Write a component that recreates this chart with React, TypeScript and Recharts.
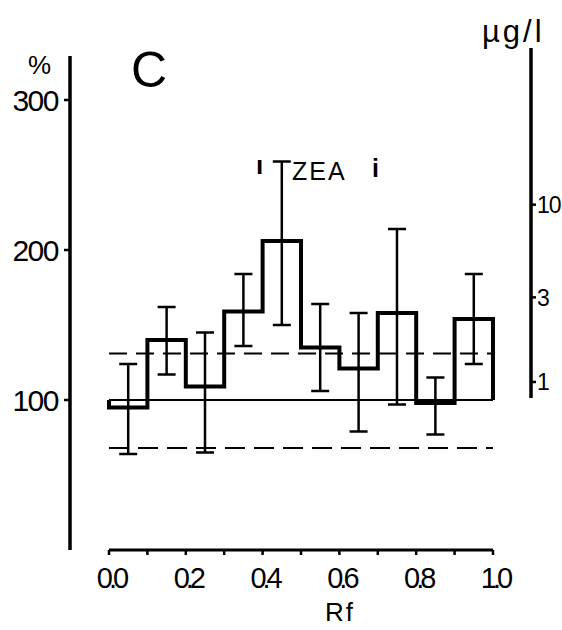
import React from "react";
import {
  ComposedChart,
  Line,
  Scatter,
  ErrorBar,
  XAxis,
  YAxis,
  ReferenceLine,
  Customized,
} from "recharts";

// Rf bins (lower edge) and ZEA response in % per bin
const binStarts = [0.0, 0.1, 0.2, 0.3, 0.4, 0.5, 0.6, 0.7, 0.8, 0.9];
const zeaPercent = [95, 140, 109, 159, 206, 135, 121, 158, 98, 154];

// error bars at bin centres
const binCenters = [0.05, 0.15, 0.25, 0.35, 0.45, 0.55, 0.65, 0.75, 0.85, 0.95];
const errLow = [64, 117, 65, 136, 150, 106, 79, 97, 77, 124];
const errHigh = [124, 162, 145, 184, 259, 164, 158, 214, 115, 184];

const baseline = 100;
const upperLimit = 131;
const lowerLimit = 68;

const rfTicks = [0, 0.1, 0.2, 0.3, 0.4, 0.5, 0.6, 0.7, 0.8, 0.9, 1.0];
const percentTicks = [100, 200, 300];
const concTicks = [1, 3, 10];

const rfDomain: [number, number] = [-0.1016, 1.099];
const percentDomain: [number, number] = [0, 334.67];
const concDomain: [number, number] = [0.1128, 76.5];
const percentAxisTop = 329.3;
const concAxisBottom = 0.812;

const FONT = "'Liberation Sans', Arial, sans-serif";

// step outline: starts and ends on the 100 % line
const stepData = [
  { rf: 0, pct: baseline },
  ...binStarts.map((rf, i) => ({ rf, pct: zeaPercent[i] })),
  { rf: 1, pct: zeaPercent[zeaPercent.length - 1] },
  { rf: 1, pct: baseline },
];

const errData = binCenters.map((rf, i) => ({
  rf,
  mid: (errLow[i] + errHigh[i]) / 2,
  err: (errHigh[i] - errLow[i]) / 2,
}));

const RfTick = ({ x, y, payload }: any) => {
  const v = payload.value as number;
  const even = Math.round(v * 10) % 2 === 0;
  return (
    <g>
      <line x1={x} x2={x} y1={y} y2={y + 5} stroke="#000" strokeWidth={2.5} />
      {even && (
        <text
          x={x + 2}
          y={y + 38}
          textAnchor="middle"
          fontFamily={FONT}
          fontSize={29}
          letterSpacing={-4}
          fill="#000"
        >
          {v.toFixed(1)}
        </text>
      )}
    </g>
  );
};

const Annotations = () => (
  <g fontFamily={FONT} fill="#000">
    <text x={28} y={74} fontSize={26}>
      %
    </text>
    <text x={131} y={87} fontSize={50}>
      C
    </text>
    <text x={482} y={42} fontSize={31} letterSpacing={3}>
      µg/l
    </text>
    <text x={256} y={174} fontSize={26} fontWeight="bold">
      ı
    </text>
    <text x={292} y={180} fontSize={25} letterSpacing={2}>
      ZEA
    </text>
    <text x={372} y={177} fontSize={25} fontWeight="bold">
      i
    </text>
    <text x={340} y={621} fontSize={26} textAnchor="middle" letterSpacing={2}>
      Rf
    </text>
  </g>
);

export default function App() {
  return (
    <div style={{ position: "absolute", left: 0, top: 0, width: 562, height: 630, background: "#fff" }}>
      <ComposedChart
        width={562}
        height={630}
        margin={{ top: 48, right: 0, bottom: 40, left: 0 }}
      >
        <XAxis
          type="number"
          dataKey="rf"
          domain={rfDomain}
          ticks={rfTicks}
          axisLine={false}
          tickLine={false}
          tickSize={0}
          tickMargin={0}
          height={40}
          tick={<RfTick />}
          interval={0}
        />
        <YAxis
          yAxisId="left"
          domain={percentDomain}
          ticks={percentTicks}
          allowDataOverflow
          axisLine={false}
          tickLine={{ stroke: "#000", strokeWidth: 2.5 }}
          tickSize={6}
          tickMargin={6}
          width={70}
          tick={{ fontFamily: FONT, fontSize: 30, fill: "#000", letterSpacing: -1.5 }}
        />
        <YAxis
          yAxisId="right"
          orientation="right"
          scale="log"
          domain={concDomain}
          ticks={concTicks}
          allowDataOverflow
          axisLine={false}
          tickLine={{ stroke: "#000", strokeWidth: 2.5 }}
          tickSize={5}
          tickMargin={1}
          width={31}
          tick={{ fontFamily: FONT, fontSize: 23, fill: "#000", letterSpacing: -1 }}
        />

        {/* axis lines */}
        <ReferenceLine
          yAxisId="left"
          segment={[{ x: rfDomain[0], y: 0 }, { x: rfDomain[0], y: percentAxisTop }]}
          stroke="#000"
          strokeWidth={3.5}
        />
        <ReferenceLine
          yAxisId="left"
          segment={[{ x: 0, y: 0 }, { x: 1, y: 0 }]}
          stroke="#000"
          strokeWidth={3}
        />
        <ReferenceLine
          yAxisId="right"
          segment={[{ x: rfDomain[1], y: concAxisBottom }, { x: rfDomain[1], y: concDomain[1] }]}
          stroke="#000"
          strokeWidth={3.5}
        />

        {/* control levels */}
        <ReferenceLine
          yAxisId="left"
          segment={[{ x: 0, y: baseline }, { x: 1, y: baseline }]}
          stroke="#000"
          strokeWidth={2}
        />
        <ReferenceLine
          yAxisId="left"
          segment={[{ x: 0, y: upperLimit }, { x: 1, y: upperLimit }]}
          stroke="#000"
          strokeWidth={2}
          strokeDasharray="18 9"
        />
        <ReferenceLine
          yAxisId="left"
          segment={[{ x: 0, y: lowerLimit }, { x: 1, y: lowerLimit }]}
          stroke="#000"
          strokeWidth={2}
          strokeDasharray="20 9"
        />

        <Line
          yAxisId="left"
          data={stepData}
          dataKey="pct"
          type="stepAfter"
          stroke="#000"
          strokeWidth={4}
          dot={false}
          activeDot={false}
          isAnimationActive={false}
        />
        <Scatter
          yAxisId="left"
          data={errData}
          dataKey="mid"
          shape={() => <g />}
          isAnimationActive={false}
        >
          <ErrorBar
            dataKey="err"
            direction="y"
            width={9}
            stroke="#000"
            strokeWidth={2.5}
            isAnimationActive={false}
          />
        </Scatter>

        <Customized component={Annotations} />
      </ComposedChart>
    </div>
  );
}
